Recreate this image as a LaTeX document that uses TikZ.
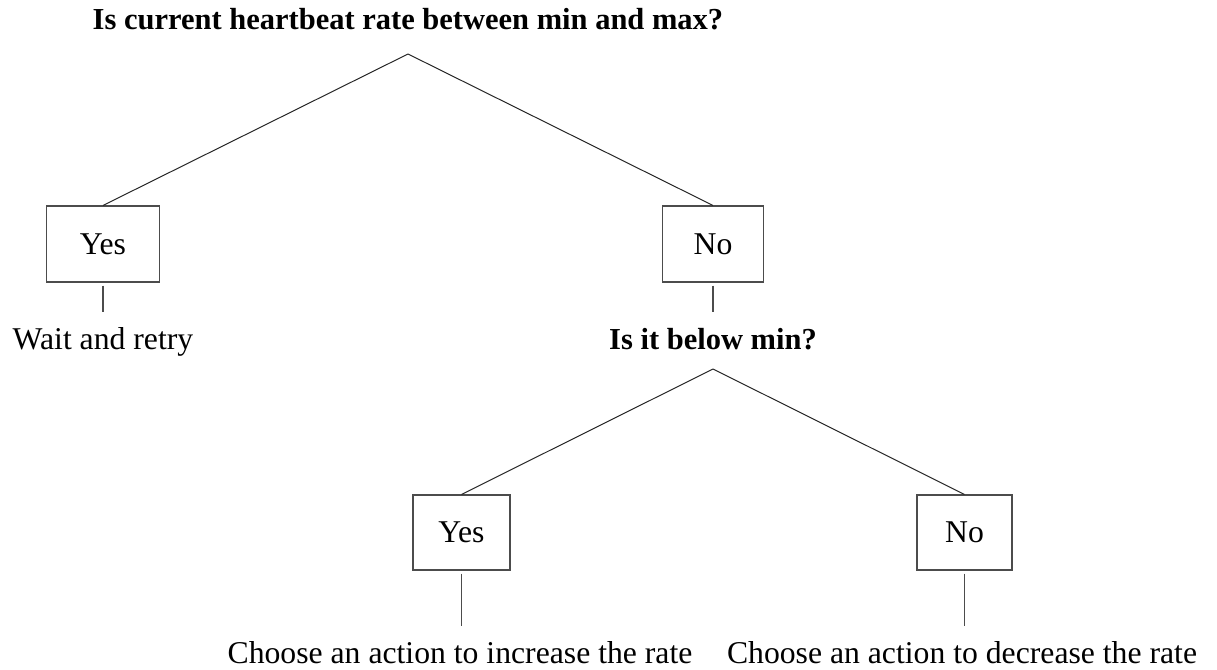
\documentclass[tikz,border=0pt]{standalone}
\usepackage{fontspec}
\setmainfont{Liberation Serif}
\begin{document}
\begin{tikzpicture}[x=1pt,y=-1pt,
  txt/.style={font=\fontsize{31.7}{37}\selectfont, inner sep=0pt, anchor=base, text height=22pt, text depth=1pt},
  qtxt/.style={txt, font=\fontsize{30.5}{36}\selectfont\bfseries},
  answer/.style={draw=black!70, line width=1.1pt, inner sep=0pt,
    font=\fontsize{31.7}{37}\selectfont},
  branch/.style={draw=black!85, line width=1pt},
  stem/.style={draw=black!70, line width=1.1pt, shorten <=3pt, shorten >=15pt}]
\useasboundingbox (0,0) rectangle (1217,669);

% first question and its two answers
\node[qtxt] (q1) at (408,30) {Is current heartbeat rate between min and max?};
\coordinate (a1) at (408,54);
\node[answer, minimum width=113pt, minimum height=76pt] (y1) at (103,244) {Yes};
\node[answer, minimum width=101pt, minimum height=76pt] (n1) at (713,244) {No};
\draw[branch] (a1) -- (y1.north);
\draw[branch] (a1) -- (n1.north);

% outcomes of the first question
\node[txt] (wait) at (103,349) {Wait and retry};
\node[qtxt] (q2) at (713,349) {Is it below min?};
\draw[stem] (y1.south) -- (y1.south |- wait.north);
\draw[stem] (n1.south) -- (n1.south |- q2.north);

% second question and its answers
\coordinate (a2) at (713,369);
\node[answer, minimum width=97pt, minimum height=75pt] (y2) at (461.5,532.5) {Yes};
\node[answer, minimum width=95pt, minimum height=75pt] (n2) at (964.5,532.5) {No};
\draw[branch] (a2) -- (y2.north);
\draw[branch] (a2) -- (n2.north);

% actions
\node[txt] (inc) at (460,663) {Choose an action to increase the rate};
\node[txt] (dec) at (962,663) {Choose an action to decrease the rate};
\draw[stem] (y2.south) -- (y2.south |- inc.north);
\draw[stem] (n2.south) -- (n2.south |- dec.north);
\end{tikzpicture}
\end{document}
